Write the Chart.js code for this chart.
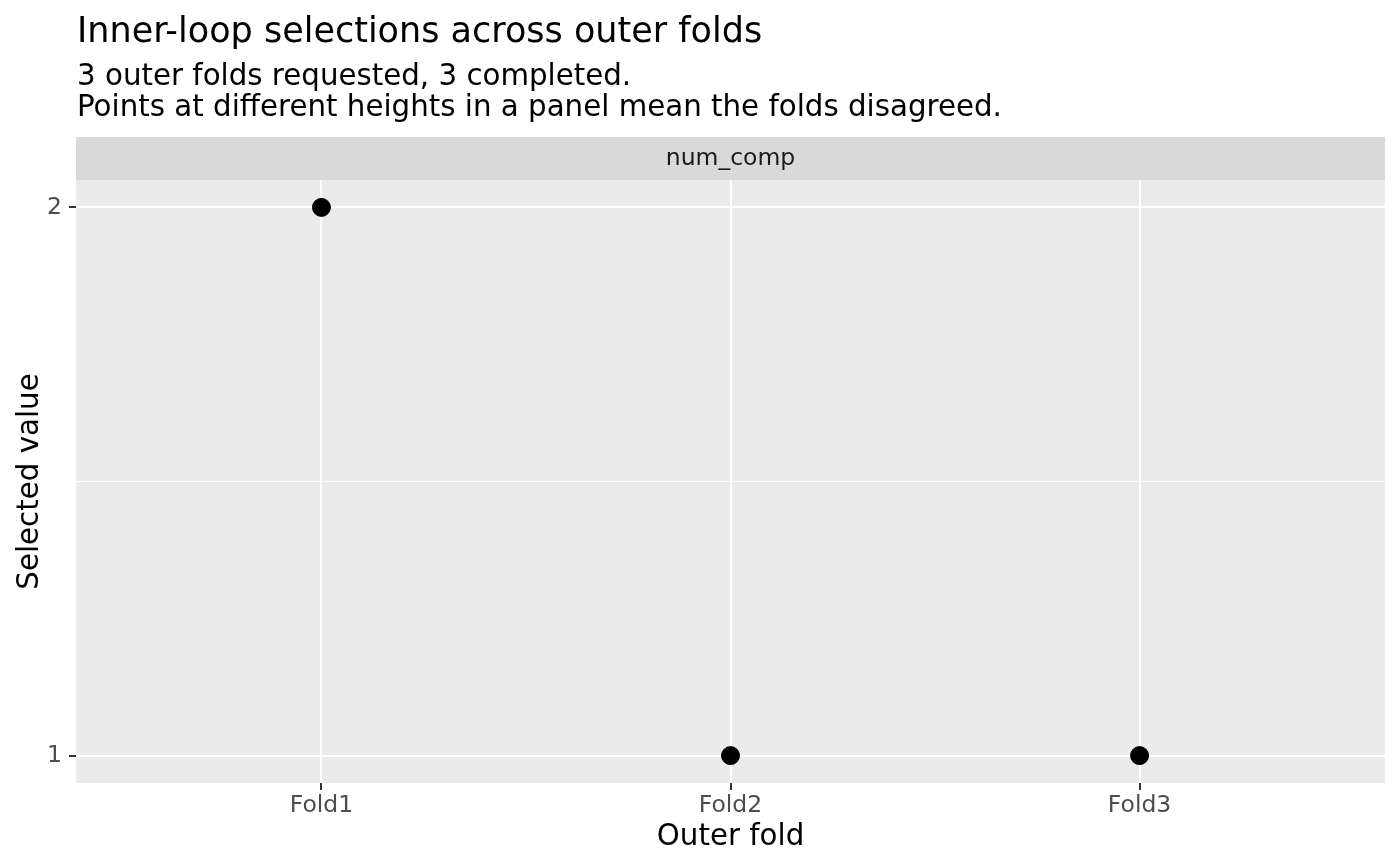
<!DOCTYPE html>
<html>
<head>
<meta charset="utf-8">
<script src="https://cdn.jsdelivr.net/npm/chart.js@4/dist/chart.umd.min.js"></script>
<style>
  html, body { margin: 0; padding: 0; background: #fff; }
  #wrap { width: 1400px; height: 866px; position: relative; }
</style>
</head>
<body>
<div id="wrap"><canvas id="chart"></canvas></div>
<script>
const folds = ['Fold1', 'Fold2', 'Fold3'];
const selectedValues = [2, 1, 1];
const yTicks = [1, 1.5, 2];
const yTickLabels = ['1', '', '2'];
const titleText = 'Inner-loop selections across outer folds';
const subtitleLines = ['3 outer folds requested, 3 completed.', 'Points at different heights in a panel mean the folds disagreed.'];
const stripLabel = 'num_comp';

const FONT = '"DejaVu Sans", sans-serif';

// ggplot-ish panel background, strip and titles
const ggDecor = {
    id: 'ggDecor',
    beforeDraw(chart) {
        const { ctx, chartArea: a } = chart;
        ctx.save();
        ctx.fillStyle = '#EBEBEB';
        ctx.fillRect(a.left, a.top, a.right - a.left, a.bottom - a.top);
        ctx.fillStyle = '#D9D9D9';
        ctx.fillRect(a.left, a.top - 43, a.right - a.left, 43);
        ctx.restore();
    },
    afterDraw(chart) {
        const { ctx, chartArea: a } = chart;
        ctx.save();
        ctx.fillStyle = '#000';
        ctx.textAlign = 'left';
        ctx.textBaseline = 'alphabetic';
        ctx.font = '35px ' + FONT;
        ctx.fillText(titleText, 77, 42);
        ctx.font = '29.3px ' + FONT;
        ctx.fillText(subtitleLines[0], 77, 85);
        ctx.fillText(subtitleLines[1], 77, 116);

        ctx.fillStyle = '#1A1A1A';
        ctx.font = '23.5px ' + FONT;
        ctx.textAlign = 'center';
        ctx.textBaseline = 'middle';
        ctx.fillText(stripLabel, (a.left + a.right) / 2, a.top - 21);

        ctx.fillStyle = '#000';
        ctx.font = '29.3px ' + FONT;
        ctx.textBaseline = 'alphabetic';
        ctx.fillText('Outer fold', (a.left + a.right) / 2, 845);
        ctx.translate(38, (a.top + a.bottom) / 2);
        ctx.rotate(-Math.PI / 2);
        ctx.fillText('Selected value', 0, 0);
        ctx.restore();
    }
};

new Chart(document.getElementById('chart'), {
    type: 'scatter',
    data: {
        datasets: [{
            data: selectedValues.map((v, i) => ({ x: i + 1, y: v })),
            backgroundColor: '#000',
            borderColor: '#000',
            pointRadius: 9,
            pointHoverRadius: 9
        }]
    },
    options: {
        responsive: true,
        maintainAspectRatio: false,
        animation: false,
        layout: { padding: { left: 0, right: 15, top: 180, bottom: 0 } },
        plugins: { legend: { display: false }, tooltip: { enabled: false } },
        scales: {
            x: {
                type: 'linear',
                min: 0.4,
                max: 3.6,
                afterBuildTicks: (scale) => { scale.ticks = folds.map((f, i) => ({ value: i + 1 })); },
                afterFit: (scale) => { scale.height = 83; },
                ticks: {
                    callback: (v) => folds[v - 1],
                    color: '#4D4D4D',
                    font: { family: FONT, size: 23.5 },
                    padding: 2
                },
                grid: {
                    color: '#FFFFFF',
                    lineWidth: 2,
                    tickColor: '#333333',
                    tickLength: 7,
                    tickWidth: 2
                },
                border: { display: false }
            },
            y: {
                type: 'linear',
                min: 0.95,
                max: 2.05,
                afterBuildTicks: (scale) => { scale.ticks = yTicks.map(v => ({ value: v })); },
                afterFit: (scale) => { scale.width = 76; },
                ticks: {
                    callback: (v) => yTickLabels[yTicks.indexOf(v)],
                    color: '#4D4D4D',
                    font: { family: FONT, size: 23.5 },
                    padding: 7
                },
                grid: {
                    color: '#FFFFFF',
                    lineWidth: (c) => (c.tick && c.tick.value === 1.5 ? 1 : 2),
                    tickColor: (c) => (c.tick && c.tick.value === 1.5 ? 'rgba(0,0,0,0)' : '#333333'),
                    tickLength: 7,
                    tickWidth: 2
                },
                border: { display: false }
            }
        }
    },
    plugins: [ggDecor]
});
</script>
</body>
</html>
